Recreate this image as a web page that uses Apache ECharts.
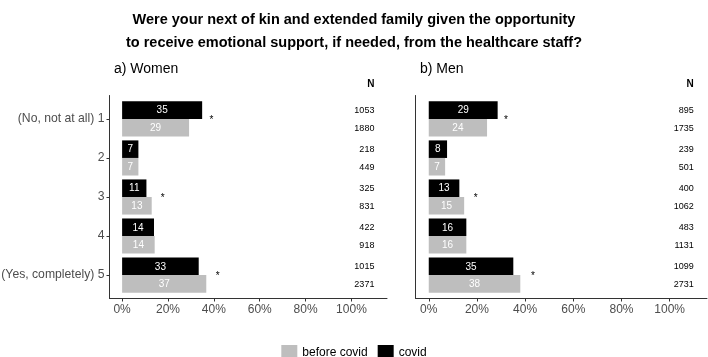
<!DOCTYPE html>
<html>
<head>
<meta charset="utf-8">
<script src="https://cdn.jsdelivr.net/npm/echarts@6/dist/echarts.min.js"></script>
<style>
  html, body { margin: 0; padding: 0; background: #fff; }
  #chart { width: 708px; height: 357px; }
</style>
</head>
<body>
<div id="chart"></div>
<script>
// answer categories (y axis, top to bottom)
const categories = ['(No, not at all) 1', '2', '3', '4', '(Yes, completely) 5'];
const xTicks = [0, 20, 40, 60, 80, 100];

// percentages (labels are the rounded values)
const womenCovid  = [34.9, 7.1, 10.6, 13.9, 33.4];
const womenBefore = [29.2, 7.1, 12.9, 14.2, 36.7];
const menCovid    = [28.6, 7.6, 12.7, 15.6, 35.1];
const menBefore   = [24.2, 6.8, 14.7, 15.6, 38.0];

// N per bar
const womenNCovid  = [1053, 218, 325, 422, 1015];
const womenNBefore = [1880, 449, 831, 918, 2371];
const menNCovid    = [895, 239, 400, 483, 1099];
const menNBefore   = [1735, 501, 1062, 1131, 2731];

// significance stars: [x %, category]
const womenStars = [[39.0, 1], [17.7, 3], [41.7, 5]];
const menStars   = [[32.0, 1], [19.5, 3], [43.2, 5]];

const nColumnX = 110;
const barH = 0.45;

var chartDom = document.getElementById('chart');
var myChart = echarts.init(chartDom);

// bar with its percent label inside; side -1 = upper (covid), 0 = lower (before covid)
function barItem(params, api) {
    var v = api.value(0);
    var c = api.value(1);
    var side = api.value(2);
    var p0 = api.coord([0, c + side * barH]);
    var p1 = api.coord([v, c + side * barH + barH]);
    var x = Math.min(p0[0], p1[0]);
    var y = Math.min(p0[1], p1[1]);
    var w = Math.abs(p1[0] - p0[0]);
    var h = Math.abs(p1[1] - p0[1]);
    return {
        type: 'group',
        children: [
            { type: 'rect', shape: { x: x, y: y, width: w, height: h }, style: { fill: api.visual('color') } },
            {
                type: 'text',
                style: {
                    x: x + w / 2, y: y + h / 2 + 0.5,
                    text: String(Math.round(v)),
                    fill: '#fff', font: '10px "Liberation Sans", Arial, sans-serif',
                    align: 'center', verticalAlign: 'middle'
                }
            }
        ]
    };
}

function nItem(params, api) {
    var n = api.value(0);
    var c = api.value(1);
    var side = api.value(2);
    var p = api.coord([nColumnX, c + side * barH + barH / 2]);
    var children = [{
        type: 'text',
        style: {
            x: p[0], y: p[1] + 0.5, text: String(n), fill: '#000',
            font: '9px "Liberation Sans", Arial, sans-serif', align: 'right', verticalAlign: 'middle'
        }
    }];
    if (params.dataIndex === 0) {
        var top = api.coord([nColumnX, 0.4]);
        children.push({
            type: 'text',
            style: {
                x: top[0], y: top[1] - 11, text: 'N', fill: '#000',
                font: 'bold 10px "Liberation Sans", Arial, sans-serif', align: 'right', verticalAlign: 'middle'
            }
        });
    }
    return { type: 'group', children: children };
}

function starItem(params, api) {
    var p = api.coord([api.value(0), api.value(1)]);
    return {
        type: 'text',
        style: {
            x: p[0], y: p[1] + 1, text: '*', fill: '#000',
            font: '10px "Liberation Sans", Arial, sans-serif', align: 'center', verticalAlign: 'middle'
        }
    };
}

function barData(values, side) {
    return values.map(function (v, i) { return [v, i + 1, side]; });
}

function panelSeries(idx, covid, before, nCovid, nBefore, stars) {
    return [
        {
            name: 'covid', type: 'custom', xAxisIndex: idx, yAxisIndex: idx,
            renderItem: barItem, itemStyle: { color: '#000000' },
            encode: { x: 0, y: 1 }, data: barData(covid, -1)
        },
        {
            name: 'before covid', type: 'custom', xAxisIndex: idx, yAxisIndex: idx,
            renderItem: barItem, itemStyle: { color: '#bebebe' },
            encode: { x: 0, y: 1 }, data: barData(before, 0)
        },
        {
            name: 'N', type: 'custom', xAxisIndex: idx, yAxisIndex: idx, renderItem: nItem,
            data: barData(nCovid, -1).concat(barData(nBefore, 0)), silent: true
        },
        {
            name: 'sig', type: 'custom', xAxisIndex: idx, yAxisIndex: idx, renderItem: starItem,
            data: stars, silent: true
        }
    ];
}

function xAxisCfg(idx) {
    return {
        type: 'value', gridIndex: idx, min: -5.5, max: 115.5,
        splitLine: { show: false },
        axisLine: { show: true, onZero: false, lineStyle: { color: '#333', width: 1 } },
        axisTick: { show: true, length: 3, customValues: xTicks, lineStyle: { color: '#333' } },
        axisLabel: {
            customValues: xTicks, formatter: function (v) { return v + '%'; },
            color: '#4d4d4d', fontSize: 12, margin: 5, fontFamily: 'Liberation Sans'
        }
    };
}

function yAxisCfg(idx, showLabels) {
    return {
        type: 'value', gridIndex: idx, inverse: true, min: 0.4, max: 5.6,
        splitLine: { show: false },
        axisLine: { show: true, onZero: false, lineStyle: { color: '#333', width: 1 } },
        axisTick: { show: showLabels, length: 3, customValues: [1, 2, 3, 4, 5], lineStyle: { color: '#333' } },
        axisLabel: {
            show: showLabels, customValues: [1, 2, 3, 4, 5],
            formatter: function (v) { return categories[v - 1]; },
            color: '#4d4d4d', fontSize: 12.2, margin: 5, fontFamily: 'Liberation Sans'
        }
    };
}

var option = {
    backgroundColor: '#fff',
    animation: false,
    title: [
        {
            text: 'Were your next of kin and extended family given the opportunity\nto receive emotional support, if needed, from the healthcare staff?',
            left: 'center', top: 3,
            textStyle: { fontSize: 14.5, fontWeight: 'bold', color: '#000', lineHeight: 23, fontFamily: 'Liberation Sans' }
        },
        { text: 'a) Women', left: 109, top: 57, textStyle: { fontSize: 14, fontWeight: 'normal', color: '#000', fontFamily: 'Liberation Sans' } },
        { text: 'b) Men', left: 415, top: 57, textStyle: { fontSize: 14, fontWeight: 'normal', color: '#000', fontFamily: 'Liberation Sans' } }
    ],
    legend: {
        data: ['before covid', 'covid'],
        left: 'center', top: 340,
        icon: 'rect', itemWidth: 16, itemHeight: 15, itemGap: 10,
        textStyle: { fontSize: 12, color: '#000', fontFamily: 'Liberation Sans' }
    },
    grid: [
        { left: 109.5, top: 95.5, width: 277.5, height: 203, containLabel: false, outerBoundsMode: 'none' },
        { left: 415.5, top: 95.5, width: 291.5, height: 203, containLabel: false, outerBoundsMode: 'none' }
    ],
    xAxis: [xAxisCfg(0), xAxisCfg(1)],
    yAxis: [yAxisCfg(0, true), yAxisCfg(1, false)],
    series: panelSeries(0, womenCovid, womenBefore, womenNCovid, womenNBefore, womenStars)
        .concat(panelSeries(1, menCovid, menBefore, menNCovid, menNBefore, menStars))
};

option && myChart.setOption(option);
</script>
</body>
</html>
